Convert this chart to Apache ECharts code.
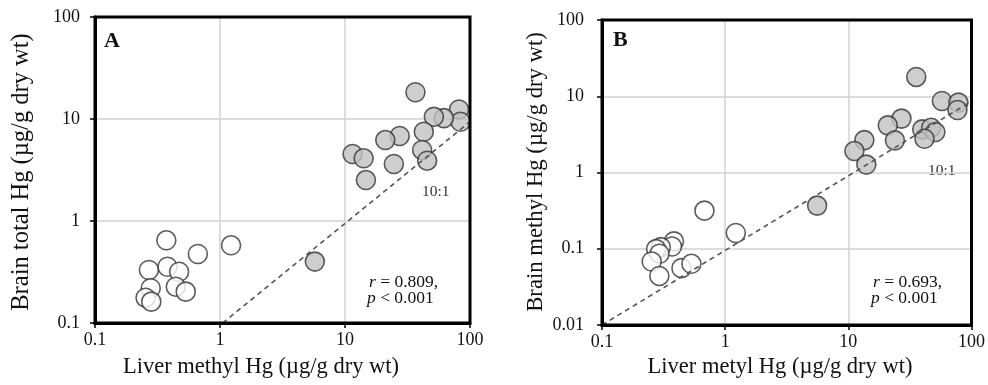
<!DOCTYPE html>
<html>
<head>
<meta charset="utf-8">
<script src="https://cdn.jsdelivr.net/npm/echarts@6/dist/echarts.min.js"></script>
<style>html,body{margin:0;padding:0;background:#fff}#c{width:988px;height:385px}</style>
</head>
<body>
<div id="c"></div>
<script>
// Panel A: liver methyl Hg (x) vs brain total Hg (y)
const aOpenX = [0.372, 1.226, 0.665, 0.27, 0.38, 0.471, 0.443, 0.532, 0.279, 0.254, 0.282];
const aOpenY = [0.647, 0.578, 0.475, 0.331, 0.356, 0.318, 0.227, 0.203, 0.219, 0.177, 0.162];
const aFillX = [36.6, 81.7, 84, 61.8, 51.4, 42.7, 41.4, 45.4, 27.4, 21, 24.6, 11.5, 14.1, 14.7, 5.74];
const aFillY = [18.3, 12.4, 9.4, 10.2, 10.5, 7.5, 4.97, 3.9, 6.81, 6.22, 3.62, 4.54, 4.12, 2.52, 0.40];
// Panel B: liver methyl Hg (x) vs brain methyl Hg (y)
const bOpenX = [0.679, 1.22, 0.384, 0.37, 0.30, 0.275, 0.293, 0.253, 0.292, 0.442, 0.532];
const bOpenY = [0.316, 0.161, 0.125, 0.107, 0.105, 0.099, 0.086, 0.068, 0.044, 0.0557, 0.0635];
const bFillX = [35.6, 57.5, 78.3, 76.9, 27, 20.9, 23.9, 39.8, 47, 50.9, 41.5, 13.5, 11.2, 14, 5.58];
const bFillY = [17.9, 8.67, 8.26, 6.6, 5.09, 4.15, 2.64, 3.68, 3.87, 3.39, 2.77, 2.66, 1.91, 1.27, 0.368];
// 10:1 reference lines
const aRefLine = [[1.05, 0.1], [100, 9.4]];
const bRefLine = [[0.1, 0.01], [100, 8.6]];
// tick values
const xTicks = [0.1, 1, 10, 100];
const aYTicks = [0.1, 1, 10, 100];
const bYTicks = [0.01, 0.1, 1, 10, 100];

const zip = (xs, ys) => xs.map((x, i) => [x, ys[i]]);
const FONT = '"Liberation Serif","Times New Roman",serif';
const fmt = v => String(Math.round(v * 1000) / 1000);

function xAxis(gi, margin) {
  return {
    type: 'log', logBase: 10, gridIndex: gi, min: 0.1, max: 100,
    axisLine: { show: true, lineStyle: { color: '#000', width: 3 } },
    axisTick: { show: true, inside: false, length: 5, lineStyle: { color: '#000', width: 1.5 } },
    axisLabel: { fontFamily: FONT, fontSize: 18, color: '#111', margin: margin, formatter: fmt },
    splitLine: { show: true, lineStyle: { color: '#d2d2d2', width: 1.5 } },
    minorTick: { show: false }
  };
}
function yAxis(gi, min, margin) {
  return {
    type: 'log', logBase: 10, gridIndex: gi, min: min, max: 100,
    axisLine: { show: true, lineStyle: { color: '#000', width: 3 } },
    axisTick: { show: true, inside: false, length: 5, lineStyle: { color: '#000', width: 1.5 } },
    axisLabel: { fontFamily: FONT, fontSize: 18, color: '#111', margin: margin, formatter: fmt },
    splitLine: { show: true, lineStyle: { color: '#d2d2d2', width: 1.5 } }
  };
}
const openStyle = { color: '#ffffff', borderColor: '#333', borderWidth: 1.6 };
const fillStyle = { color: '#c2c2c2', borderColor: '#333', borderWidth: 1.6 };
const SZ = 19;

function scatter(gi, data, style, z) {
  return { type: 'scatter', xAxisIndex: gi, yAxisIndex: gi, data: data, symbol: 'circle',
    symbolSize: SZ, itemStyle: style, z: z, silent: true, animation: false };
}
function refLine(gi, data) {
  return { type: 'line', xAxisIndex: gi, yAxisIndex: gi, data: data, symbol: 'none',
    lineStyle: { color: '#555', width: 1.6, type: [5, 4] }, z: 5, silent: true, animation: false };
}

function txt(left, top, text, size, opts) {
  return { type: 'text', left: left, top: top, silent: true,
    style: Object.assign({ text: text, fontFamily: FONT, fontSize: size, fill: '#111' }, opts || {}) };
}
function rtext(left, top, text) {
  return { type: 'text', left: left, top: top, silent: true,
    style: { text: text, fontFamily: FONT, fontSize: 17.5, fill: '#111',
      rich: { i: { fontStyle: 'italic', fontFamily: FONT, fontSize: 17.5, fill: '#111' } } } };
}
function title(x, y, text, size, rot) {
  return { type: 'text', x: x, y: y, rotation: rot || 0, silent: true,
    style: { text: text, fontFamily: FONT, fontSize: size, fill: '#111', align: 'center', verticalAlign: 'middle' } };
}

const chart = echarts.init(document.getElementById('c'), null, { renderer: 'canvas' });
chart.setOption({
  backgroundColor: '#fff',
  animation: false,
  grid: [
    { left: 95, top: 17, width: 375, height: 306, show: true, borderColor: '#000', borderWidth: 3, backgroundColor: 'transparent', z: 10 },
    { left: 602, top: 20, width: 372, height: 305, show: true, borderColor: '#000', borderWidth: 3, backgroundColor: 'transparent', z: 10 }
  ],
  xAxis: [xAxis(0, 8), xAxis(1, 8)],
  yAxis: [yAxis(0, 0.1, 15), yAxis(1, 0.01, 18)],
  series: [
    scatter(0, zip(aOpenX, aOpenY), openStyle, 3),
    scatter(0, zip(aFillX, aFillY), fillStyle, 3),
    refLine(0, aRefLine),
    scatter(1, zip(bOpenX, bOpenY), openStyle, 3),
    scatter(1, zip(bFillX, bFillY), fillStyle, 3),
    refLine(1, bRefLine)
  ],
  graphic: [
    txt(104, 30, 'A', 22, { fontWeight: 'bold' }),
    txt(613, 29, 'B', 22, { fontWeight: 'bold' }),
    txt(422, 184, '10:1', 15.5, { fill: '#333' }),
    txt(928, 163, '10:1', 15.5, { fill: '#333' }),
    rtext(369, 273, '{i|r} = 0.809,'),
    rtext(367, 289, '{i|p} < 0.001'),
    rtext(873, 273, '{i|r} = 0.693,'),
    rtext(871, 289, '{i|p} < 0.001'),
    title(261, 367, 'Liver methyl Hg (µg/g dry wt)', 22.5),
    title(780, 367, 'Liver metyl Hg (µg/g dry wt)', 22.5),
    title(22, 172, 'Brain total Hg (µg/g dry wt)', 24.5, Math.PI / 2),
    title(536, 172, 'Brain methyl Hg (µg/g dry wt)', 22.7, Math.PI / 2)
  ]
});
</script>
</body>
</html>
